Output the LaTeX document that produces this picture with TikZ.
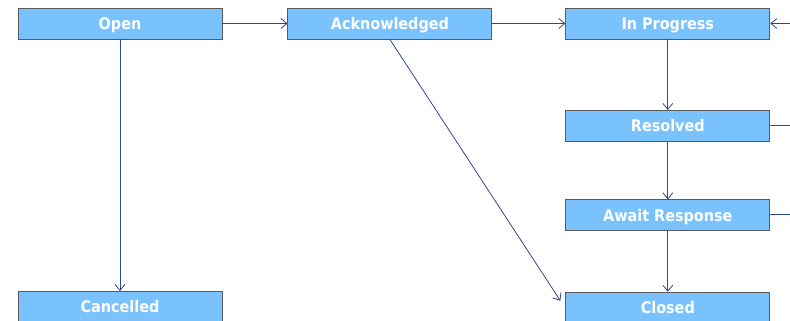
\documentclass[tikz,border=0pt]{standalone}
\usepackage{fontspec}
\usepackage{xcolor}
\usetikzlibrary{positioning}
\usetikzlibrary{arrows.meta}
\newfontfamily\statefont{DejaVu Sans Condensed}
\definecolor{colorBox}{HTML}{79C2FD}
\definecolor{colorEdge}{HTML}{5A5A5A}
\definecolor{colorArrow}{HTML}{2F4A88}

\begin{document}
\begin{tikzpicture}[x=1pt,y=1pt,>={Straight Barb[length=6pt,width=10pt]},every node/.append style={align=center},state/.style={draw=colorEdge, line width=0.9pt, fill=colorBox, text=white, font=\statefont\bfseries\fontsize{16}{18}\selectfont, minimum width=204pt, minimum height=31pt, inner sep=0pt, text height=11.7pt, text depth=0pt},flow/.style={colorArrow, line width=0.8pt},]
    \useasboundingbox (0,0) rectangle (790,-321);
    \node [state] (Open) at (120,-23.5) {Open};
    \node [state, right=65pt of Open] (Ack) {Acknowledged};
    \node [state, right=73pt of Ack] (Prog) {In Progress};
    \node [state, below=70.5pt of Prog] (Res) {Resolved};
    \node [state, below=57.5pt of Res] (Await) {Await Response};
    \node [state, below=60.5pt of Await] (Closed) {Closed};
    \node [state, below=251.5pt of Open] (Cancel) {Cancelled};
    % loop back from the right edge
    \coordinate (backIn) at (790,-23.5);
    \coordinate (resOut) at (790,-125.5);
    \coordinate (awaitOut) at (790,-214.5);
    \path[flow,->] (Open) edge (Ack);
    \path[flow,->] (Ack) edge (Prog);
    \path[flow,->] (backIn) edge (Prog);
    \path[flow,->] (Prog) edge (Res);
    \path[flow,->] (Res) edge (Await);
    \path[flow,->] (Await) edge (Closed);
    \path[flow,->] (Open) edge (Cancel);
    \path[flow,->] (Ack.south) edge ([xshift=-5pt,yshift=-9pt]Closed.north west);
    \path[flow] (Res) edge (resOut);
    \path[flow] (Await) edge (awaitOut);
\end{tikzpicture}
\end{document}
